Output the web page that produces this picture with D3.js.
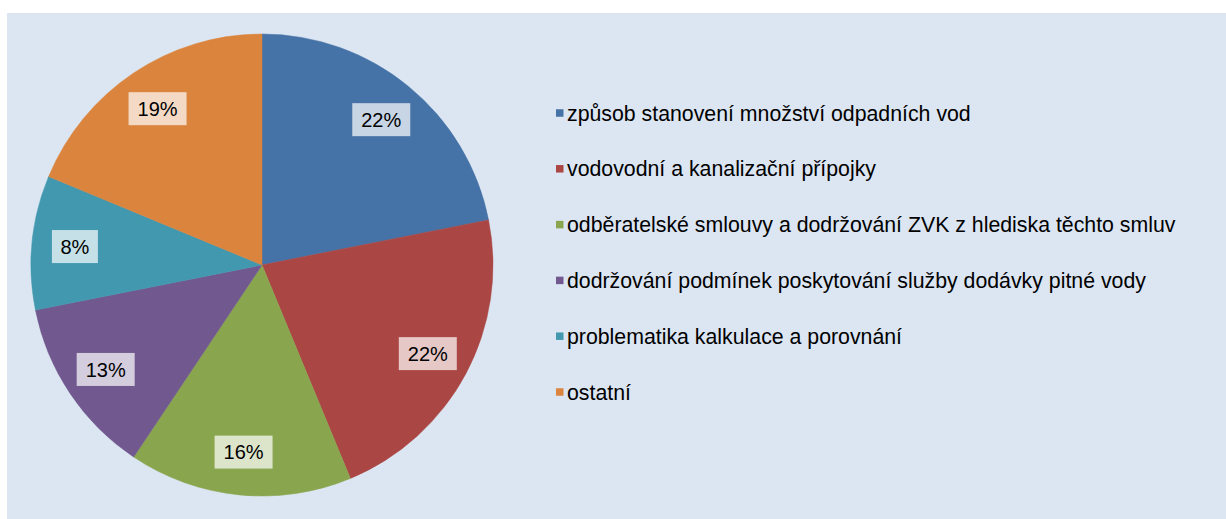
<!DOCTYPE html>
<html>
<head>
<meta charset="utf-8">
<script src="https://cdn.jsdelivr.net/npm/d3@7"></script>
<style>
  html, body { margin: 0; padding: 0; background: #ffffff; }
  svg { display: block; }
</style>
</head>
<body>
<div id="chart"></div>
<script>
// categories, slice sizes and the printed labels
const categories = [
  'způsob stanovení množství odpadních vod',
  'vodovodní a kanalizační přípojky',
  'odběratelské smlouvy a dodržování ZVK z hlediska těchto smluv',
  'dodržování podmínek poskytování služby dodávky pitné vody',
  'problematika kalkulace a porovnání',
  'ostatní'
]
const values = [7, 7, 5, 4, 3, 6]
const labels = ['22%', '22%', '16%', '13%', '8%', '19%']
const colors = ['#4572A7', '#AA4643', '#89A54E', '#71588F', '#4198AF', '#DB843D']

const width = 1226, height = 519
const pieCenter = { x: 262, y: 265 }
const radius = 231

const svg = d3.select('#chart').append('svg')
  .attr('width', width)
  .attr('height', height)

// light blue plot panel
svg.append('rect')
  .attr('x', 7).attr('y', 13)
  .attr('width', width - 7).attr('height', height - 13)
  .attr('fill', '#DCE6F2')

const data = categories.map((c, i) => ({ name: c, value: values[i], label: labels[i], color: colors[i] }))

const pie = d3.pie().sort(null).value(d => d.value)
const arcs = pie(data)
const arc = d3.arc().innerRadius(0).outerRadius(radius)
const labelArc = d3.arc().innerRadius(188).outerRadius(188)

const g = svg.append('g')
  .attr('transform', `translate(${pieCenter.x},${pieCenter.y})`)

g.selectAll('path.slice')
  .data(arcs)
  .enter()
  .append('path')
  .attr('class', 'slice')
  .attr('d', arc)
  .attr('fill', d => d.data.color)
  .attr('stroke', d => d.data.color)
  .attr('stroke-width', 0.5)

// data labels with pale boxes
const lab = g.selectAll('g.lab')
  .data(arcs)
  .enter()
  .append('g')
  .attr('class', 'lab')
  .attr('transform', d => 'translate(' + labelArc.centroid(d) + ')')

lab.append('rect')
  .attr('x', d => d.data.label.length > 2 ? -29 : -23)
  .attr('y', -16.5)
  .attr('width', d => d.data.label.length > 2 ? 58 : 46)
  .attr('height', 33)
  .attr('fill', '#ffffff')
  .attr('fill-opacity', 0.7)

lab.append('text')
  .text(d => d.data.label)
  .attr('text-anchor', 'middle')
  .attr('y', 7.2)
  .attr('font-family', '"Liberation Sans", Arial, sans-serif')
  .attr('font-size', '20px')
  .attr('fill', '#000')

// legend
const legendY = d3.scalePoint()
  .domain(categories)
  .range([113, 392])

const legend = svg.selectAll('g.legend')
  .data(data)
  .enter()
  .append('g')
  .attr('class', 'legend')
  .attr('transform', d => `translate(556,${legendY(d.name)})`)

legend.append('rect')
  .attr('x', 0).attr('y', -3.75)
  .attr('width', 7.5).attr('height', 7.5)
  .attr('fill', d => d.color)

legend.append('text')
  .text(d => d.name)
  .attr('x', 11)
  .attr('y', 7.5)
  .attr('font-family', '"Liberation Sans", Arial, sans-serif')
  .attr('font-size', '21.3px')
  .attr('fill', '#000')
</script>
</body>
</html>
